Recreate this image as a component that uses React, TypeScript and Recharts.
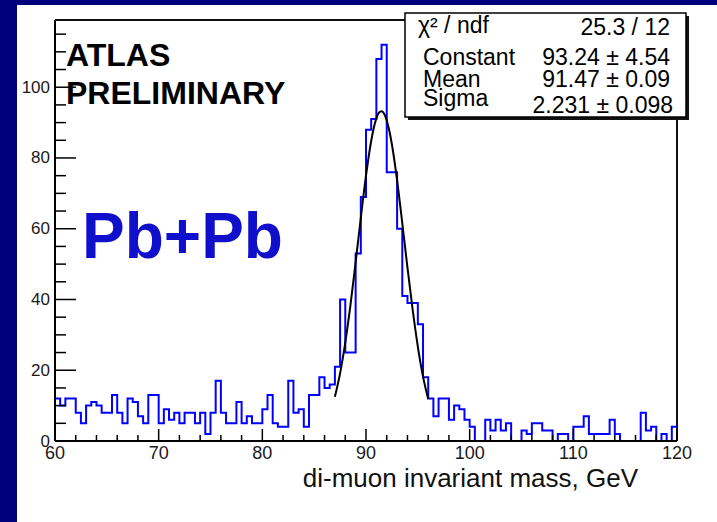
import React from 'react';
import { ComposedChart, Line, XAxis, YAxis, ReferenceLine } from 'recharts';

const FONT = '"Liberation Sans", Arial, Helvetica, sans-serif';
const NAVY = '#00007d';

// di-muon mass histogram, 0.5 GeV bins from 60 to 120 GeV
const X_MIN = 60;
const BIN_WIDTH = 0.5;
const counts = [
  12, 10, 12, 12, 8, 5, 10, 11, 10, 8, 8, 13, 8, 5, 12, 11, 7, 5, 13, 13,
  5, 9, 6, 8, 5, 8, 8, 5, 8, 2, 8, 17, 8, 5, 5, 11, 5, 7, 5, 5,
  9, 13, 5, 4, 4, 17, 8, 9, 4, 13, 13, 18, 15, 16, 21, 40, 25, 25, 53, 69,
  88, 91, 108, 112, 76, 76, 60, 41, 39, 39, 33, 18, 12, 7, 12, 12, 6, 10, 9, 6,
  4, 0, 0, 6, 3, 6, 3, 5, 0, 0, 3, 2, 5, 5, 3, 3, 0, 2, 2, 0,
  4, 4, 7, 2, 2, 2, 2, 6, 2, 0, 0, 0, 0, 8, 3, 4, 0, 2, 0, 4,
];

// gaussian fit curve
const fitMass = [87, 87.5, 88, 88.5, 89, 89.5, 90, 90.5, 90.75, 91, 91.25, 91.5, 91.75, 92, 92.25, 92.5, 93, 93.5, 94, 94.5, 95, 95.5, 96];
const fitValues = [12.5, 19.1, 27.8, 38.4, 50.5, 63.1, 75.0, 84.8, 88.5, 91.2, 92.8, 93.2, 92.5, 90.6, 87.7, 83.8, 73.7, 61.6, 49.0, 37.1, 26.7, 18.2, 11.9];

const xTicks = [60, 62, 64, 66, 68, 70, 72, 74, 76, 78, 80, 82, 84, 86, 88, 90, 92, 94, 96, 98, 100, 102, 104, 106, 108, 110, 112, 114, 116, 118, 120];
const yTicks = [0, 5, 10, 15, 20, 25, 30, 35, 40, 45, 50, 55, 60, 65, 70, 75, 80, 85, 90, 95, 100, 105, 110, 115];

const statRows = [
  ['χ² / ndf', '25.3 / 12'],
  ['Constant', '93.24 ± 4.54'],
  ['Mean', '91.47 ± 0.09'],
  ['Sigma', '2.231 ± 0.098'],
];

const histData = counts.map((c, i) => ({ mass: X_MIN + i * BIN_WIDTH, count: c }));
histData.push({ mass: X_MIN + counts.length * BIN_WIDTH, count: counts[counts.length - 1] });
const fitData = fitMass.map((m, i) => ({ mass: m, fit: fitValues[i] }));

const YTick = (props: any) => {
  const { x, y, payload } = props;
  const major = payload.value % 20 === 0;
  return (
    <g>
      <line x1={x} y1={y} x2={x + (major ? 21 : 11)} y2={y} stroke="#000" strokeWidth={1.5} />
      {major && (
        <text x={x - 5} y={y} textAnchor="end" dominantBaseline="central" fontSize={17} fill="#1a1a1a" fontFamily={FONT}>
          {payload.value}
        </text>
      )}
    </g>
  );
};

const XTick = (props: any) => {
  const { x, y, payload } = props;
  const major = payload.value % 10 === 0;
  return (
    <g>
      <line x1={x} y1={y} x2={x} y2={y - (major ? 12 : 6)} stroke="#000" strokeWidth={1.5} />
      {major && (
        <text x={x} y={y + 18} textAnchor="middle" fontSize={18} fill="#1a1a1a" fontFamily={FONT}>
          {payload.value}
        </text>
      )}
    </g>
  );
};

export default function App() {
  const rowY = [[33, 35], [65, 65], [87, 87], [106, 113]];
  return (
    <div style={{ position: 'absolute', left: 0, top: 0, width: 717, height: 522, background: NAVY, overflow: 'hidden' }}>
      <div style={{ position: 'absolute', left: 17, top: 5, width: 700, height: 517, background: '#fff' }} />
      <div style={{ position: 'absolute', left: 0, top: 0 }}>
        <ComposedChart width={717} height={522} margin={{ top: 20, right: 40, bottom: 51, left: 0 }}>
          <XAxis
            dataKey="mass"
            type="number"
            domain={[60, 120]}
            ticks={xTicks}
            interval={0}
            tickSize={0}
            tickMargin={0}
            tickLine={false}
            axisLine={{ stroke: '#000', strokeWidth: 2 }}
            tick={<XTick />}
            height={30}
            allowDataOverflow
          />
          <YAxis
            type="number"
            domain={[0, 119]}
            ticks={yTicks}
            interval={0}
            tickSize={0}
            tickMargin={0}
            tickLine={false}
            axisLine={{ stroke: '#000', strokeWidth: 2 }}
            tick={<YTick />}
            width={55}
            allowDataOverflow
          />
          <ReferenceLine y={119} stroke="#111" strokeWidth={2} />
          <ReferenceLine x={120} stroke="#111" strokeWidth={2} />
          <Line
            data={histData}
            dataKey="count"
            type="stepAfter"
            stroke="#0000ff"
            strokeWidth={2}
            dot={false}
            isAnimationActive={false}
          />
          <Line
            data={fitData}
            dataKey="fit"
            type="monotone"
            stroke="#000"
            strokeWidth={2}
            dot={false}
            isAnimationActive={false}
          />
        </ComposedChart>
      </div>
      <svg width={717} height={522} style={{ position: 'absolute', left: 0, top: 0, pointerEvents: 'none' }}>
        <g fontFamily={FONT}>
          <text x={66} y={66} fontSize={32} fontWeight="bold" fill="#000">ATLAS</text>
          <text x={66} y={104} fontSize={32} fontWeight="bold" fill="#000">PRELIMINARY</text>
          <text x={82} y={258} fontSize={64} fontWeight="bold" fill="#1010cc">Pb+Pb</text>
          <text x={638} y={487} fontSize={26} textAnchor="end" fill="#111">di-muon invariant mass, GeV</text>
          <rect x={408} y={16} width={281} height={104} fill="#111" />
          <rect x={405} y={13} width={281} height={104} fill="#fff" stroke="#000" strokeWidth={1.5} />
          {statRows.map((r, i) => (
            <g key={r[0]} fontSize={23} fill="#000">
              <text x={i === 0 ? 418 : 423} y={rowY[i][0]}>{r[0]}</text>
              <text x={i === 3 ? 673 : 670} y={rowY[i][1]} textAnchor="end">{r[1]}</text>
            </g>
          ))}
        </g>
      </svg>
    </div>
  );
}
